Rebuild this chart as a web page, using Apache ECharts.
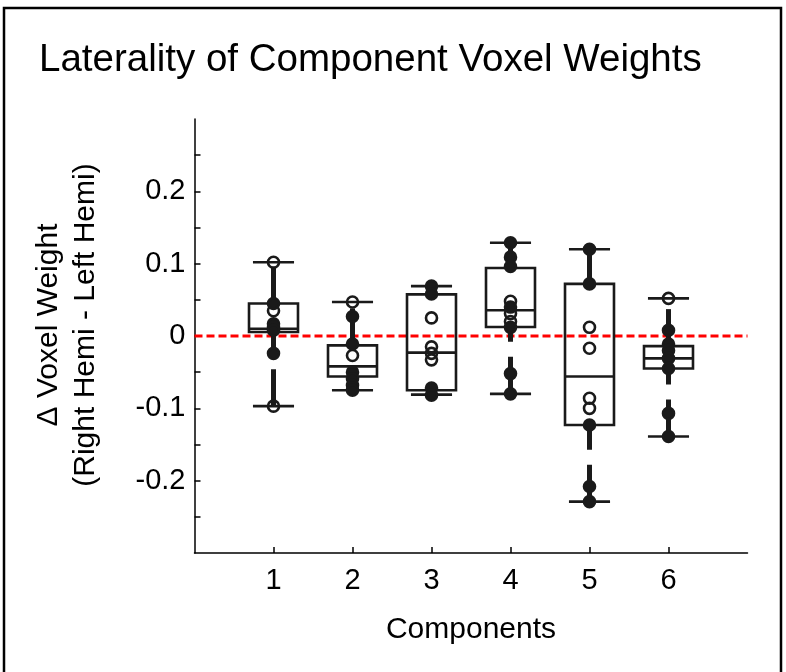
<!DOCTYPE html>
<html>
<head>
<meta charset="utf-8">
<script src="https://cdn.jsdelivr.net/npm/echarts@6/dist/echarts.min.js"></script>
<style>
  html, body { margin: 0; padding: 0; background: #fff; }
  #chart { width: 786px; height: 672px; }
</style>
</head>
<body>
<div id="chart"></div>
<script>
// components on the x axis
const components = [1, 2, 3, 4, 5, 6]

// box statistics
const whiskerLow  = [-0.097, -0.075, -0.081, -0.080, -0.229, -0.139]
const quartile1   = [0.0055, -0.056, -0.075, 0.0124, -0.123, -0.045]
const medians     = [0.010, -0.042, -0.023, 0.0355, -0.056, -0.031]
const quartile3   = [0.045, -0.013, 0.0575, 0.094, 0.072, -0.014]
const whiskerHigh = [0.102, 0.047, 0.069, 0.129, 0.120, 0.052]

// individual subjects per component, and whether the marker is filled (1) or open (0)
const points1 = [0.102, 0.045, 0.035, 0.017, 0.012, 0.008, -0.024, -0.097]
const filled1 = [0, 1, 0, 1, 1, 1, 1, 0]
const points2 = [0.047, 0.027, -0.011, -0.027, -0.050, -0.059, -0.068, -0.075]
const filled2 = [0, 1, 1, 0, 1, 1, 1, 1]
const points3 = [0.069, 0.058, 0.025, -0.015, -0.024, -0.033, -0.072, -0.082]
const filled3 = [1, 1, 0, 0, 0, 0, 1, 1]
const points4 = [0.129, 0.109, 0.096, 0.048, 0.040, 0.031, 0.020, 0.012, -0.052, -0.080]
const filled4 = [1, 1, 1, 0, 1, 0, 0, 1, 1, 1]
const points5 = [0.120, 0.072, 0.012, -0.017, -0.086, -0.100, -0.123, -0.208, -0.229]
const filled5 = [1, 1, 0, 0, 0, 0, 1, 1, 1]
const points6 = [0.052, 0.008, -0.011, -0.020, -0.031, -0.045, -0.107, -0.139]
const filled6 = [0, 1, 1, 1, 1, 1, 1, 1]

// axis ticks
const yTicks = [-0.25, -0.2, -0.15, -0.1, -0.05, 0, 0.05, 0.1, 0.15, 0.2, 0.25]
const yTickLabels = [-0.2, -0.1, 0, 0.1, 0.2]

const FONT = '"Liberation Sans", Arial, Helvetica, sans-serif'
const INK = '#1a1a1a'

const allPoints = [points1, points2, points3, points4, points5, points6]
const allFilled = [filled1, filled2, filled3, filled4, filled5, filled6]

const boxData = components.map((c, i) =>
  [c, whiskerLow[i], quartile1[i], medians[i], quartile3[i], whiskerHigh[i]])

const filledData = []
const openData = []
allPoints.forEach((arr, i) => {
  arr.forEach((v, j) => {
    if (allFilled[i][j]) filledData.push([components[i], v])
    else openData.push([components[i], v])
  })
})

const BOX_HALF = 0.31
const CAP_HALF = 0.26

function renderBox(params, api) {
  const x = api.value(0)
  const lo = api.coord([x, api.value(1)])
  const q1 = api.coord([x, api.value(2)])
  const md = api.coord([x, api.value(3)])
  const q3 = api.coord([x, api.value(4)])
  const hi = api.coord([x, api.value(5)])
  const bh = api.size([BOX_HALF, 0])[0]
  const ch = api.size([CAP_HALF, 0])[0]
  const cx = q1[0]

  const whiskerStyle = { stroke: INK, lineWidth: 5, lineDash: [37, 15], lineCap: 'butt', fill: null }
  const thin = { stroke: INK, lineWidth: 2.6, fill: null }

  return {
    type: 'group',
    children: [
      // whiskers are drawn from the lower value upwards so the dash pattern starts there
      { type: 'line', shape: { x1: cx, y1: lo[1], x2: cx, y2: q1[1] }, style: whiskerStyle },
      { type: 'line', shape: { x1: cx, y1: q3[1], x2: cx, y2: hi[1] }, style: whiskerStyle },
      { type: 'line', shape: { x1: cx - ch, y1: lo[1], x2: cx + ch, y2: lo[1] }, style: thin },
      { type: 'line', shape: { x1: cx - ch, y1: hi[1], x2: cx + ch, y2: hi[1] }, style: thin },
      { type: 'rect', shape: { x: cx - bh, y: q3[1], width: bh * 2, height: q1[1] - q3[1] },
        style: { stroke: INK, lineWidth: 2.6, fill: null } },
      { type: 'line', shape: { x1: cx - bh, y1: md[1], x2: cx + bh, y2: md[1] },
        style: { stroke: INK, lineWidth: 2.6 } }
    ]
  }
}

const chart = echarts.init(document.getElementById('chart'), null, { renderer: 'canvas' })

chart.setOption({
  animation: false,
  backgroundColor: '#fff',
  title: {
    text: 'Laterality of Component Voxel Weights',
    left: 34,
    top: 36,
    textStyle: { fontFamily: FONT, fontSize: 38.5, fontWeight: 'normal', color: '#000' }
  },
  graphic: [{
    type: 'rect',
    shape: { x: 4, y: 8, width: 777, height: 700 },
    style: { stroke: '#000', lineWidth: 2.5, fill: null },
    silent: true
  }],
  grid: { left: 194.5, right: 38.5, top: 119, bottom: 119 },
  xAxis: {
    type: 'value',
    min: 0,
    max: 7,
    interval: 1,
    name: 'Components',
    nameLocation: 'middle',
    nameGap: 62,
    nameTextStyle: { fontFamily: FONT, fontSize: 30, color: '#000' },
    axisLine: { show: true, onZero: false, lineStyle: { color: '#000', width: 1.5 } },
    axisTick: { show: true, inside: true, length: 6, customValues: components, lineStyle: { color: '#000', width: 1.5 } },
    axisLabel: { customValues: components, margin: 13, fontFamily: FONT, fontSize: 29, color: '#000' },
    splitLine: { show: false }
  },
  yAxis: {
    type: 'value',
    min: -0.3,
    max: 0.3,
    interval: 0.05,
    name: 'Δ Voxel Weight\n(Right Hemi - Left Hemi)',
    nameLocation: 'middle',
    nameGap: 90,
    nameRotate: 90,
    nameTextStyle: { fontFamily: FONT, fontSize: 30, lineHeight: 37, color: '#000', padding: [0, 0, 0, 22] },
    axisLine: { show: true, lineStyle: { color: '#000', width: 1.5 } },
    axisTick: { show: true, inside: true, length: 6, customValues: yTicks, lineStyle: { color: '#000', width: 1.5 } },
    axisLabel: {
      customValues: yTickLabels,
      margin: 9,
      fontFamily: FONT,
      fontSize: 29,
      color: '#000',
      formatter: v => String(Math.round(v * 10) / 10)
    },
    splitLine: { show: false }
  },
  series: [
    {
      type: 'line',
      data: [[0, 0], [7, 0]],
      symbol: 'none',
      z: 1,
      lineStyle: { color: '#ff0000', width: 3, type: [8, 4] },
      silent: true
    },
    {
      type: 'custom',
      data: boxData,
      renderItem: renderBox,
      z: 2,
      silent: true
    },
    {
      type: 'scatter',
      data: openData,
      symbol: 'circle',
      symbolSize: 11,
      z: 3,
      itemStyle: { color: 'rgba(0,0,0,0)', borderColor: INK, borderWidth: 2.6, opacity: 1 }
    },
    {
      type: 'scatter',
      data: filledData,
      symbol: 'circle',
      symbolSize: 11,
      z: 4,
      itemStyle: { color: INK, borderColor: INK, borderWidth: 2.6, opacity: 1 }
    }
  ]
})
</script>
</body>
</html>
